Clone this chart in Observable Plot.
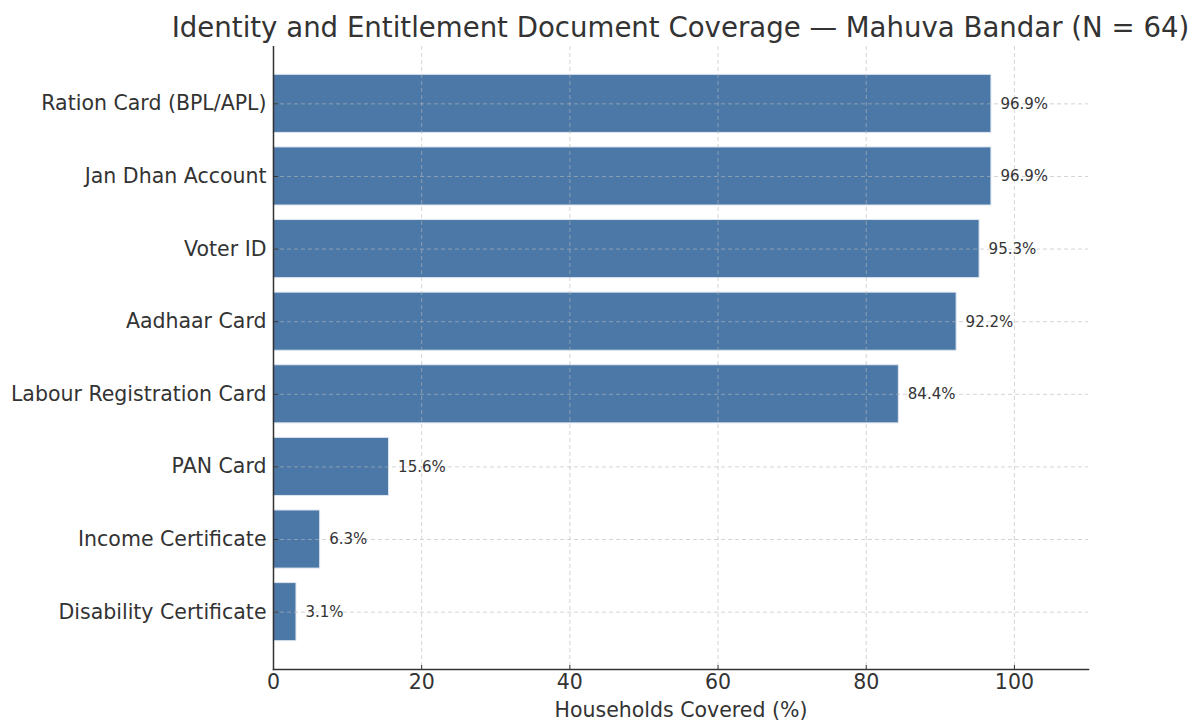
<!DOCTYPE html>
<html>
<head>
<meta charset="utf-8">
<script src="https://cdn.jsdelivr.net/npm/d3@7"></script>
<script src="https://cdn.jsdelivr.net/npm/@observablehq/plot@0.6"></script>
<style>
  html, body { margin: 0; padding: 0; background: #fff; }
  body { width: 1196px; height: 722px; overflow: hidden; font-family: "DejaVu Sans", sans-serif; position: relative; }
  #title {
    position: absolute;
    left: 680.5px;
    top: 0;
    transform: translateX(-50%);
    font-size: 27.6px;
    line-height: 56px;
    color: #333;
    white-space: nowrap;
  }
  #chart { position: absolute; left: 0; top: 46px; }
  #chart svg { display: block; }
</style>
</head>
<body>
<div id="title">Identity and Entitlement Document Coverage — Mahuva Bandar (N = 64)</div>
<div id="chart"></div>
<script>
// Document types, top to bottom
const documents = [
  "Ration Card (BPL/APL)",
  "Jan Dhan Account",
  "Voter ID",
  "Aadhaar Card",
  "Labour Registration Card",
  "PAN Card",
  "Income Certificate",
  "Disability Certificate"
];

// Share of households holding each document (%)
const coverage = [96.9, 96.9, 95.3, 92.2, 84.4, 15.6, 6.3, 3.1];

const xTicks = [0, 20, 40, 60, 80, 100];

const rows = documents.map((name, i) => ({name, pct: coverage[i]}));

const chart = Plot.plot({
  width: 1196,
  height: 676,
  marginLeft: 273,
  marginRight: 108,
  marginTop: 0,
  marginBottom: 53,
  style: {fontFamily: "DejaVu Sans, sans-serif", color: "#333", background: "#fff"},
  x: {domain: [0, 110]},
  y: {domain: documents, paddingInner: 0.2, paddingOuter: 0.39, round: false},
  marks: [
    Plot.barX(rows, {x: "pct", y: "name", fill: "#4c78a8", stroke: "#dfe7f0", strokeWidth: 1}),
    // dashed grid drawn over the bars
    Plot.gridX(xTicks, {stroke: "#b8b8b8", strokeOpacity: 0.6, strokeDasharray: "4,3", strokeWidth: 1}),
    Plot.gridY(documents, {stroke: "#b8b8b8", strokeOpacity: 0.6, strokeDasharray: "4,3", strokeWidth: 1}),
    Plot.text(rows, {
      x: "pct", y: "name",
      text: d => d.pct.toFixed(1) + "%",
      textAnchor: "start", dx: 9,
      fontSize: 15, fill: "#333"
    }),
    // inward-pointing tick marks
    Plot.axisY({tickSize: -5, tickFormat: () => "", label: null, stroke: "#333"}),
    Plot.axisX({ticks: xTicks, tickSize: -4, tickFormat: () => "", label: null, stroke: "#333"}),
    // tick labels
    Plot.axisY({tickSize: 0, tickPadding: 7, fontSize: 20.5, label: null}),
    Plot.axisX({
      ticks: xTicks, tickSize: 0, tickPadding: 5, fontSize: 20.5,
      label: "Households Covered (%)", labelAnchor: "center", labelArrow: "none", labelOffset: 47
    }),
    Plot.frame({anchor: "left", stroke: "#333", strokeWidth: 1.5}),
    Plot.frame({anchor: "bottom", stroke: "#333", strokeWidth: 1.5})
  ]
});

document.getElementById("chart").appendChild(chart);
</script>
</body>
</html>
